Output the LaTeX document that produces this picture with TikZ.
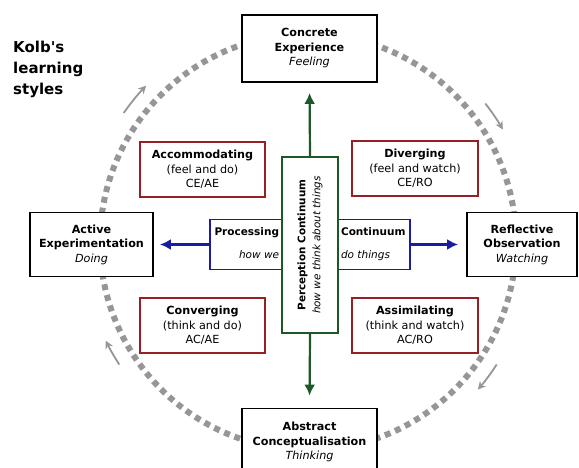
\documentclass[tikz,border=0pt]{standalone}
\usepackage{fontspec}
\setmainfont{DejaVu Sans}
\usetikzlibrary{arrows.meta}
\definecolor{boxred}{RGB}{150,32,38}
\definecolor{boxgreen}{RGB}{28,88,40}
\definecolor{boxblue}{RGB}{28,28,160}
\definecolor{ringgrey}{RGB}{150,150,150}
\tikzset{
  stage/.style={draw=black, line width=1.8pt, fill=white, align=center, inner sep=0pt,
    font=\fontsize{11.2}{14.5}\selectfont},
  lstyle/.style={draw=boxred, line width=1.3pt, fill=white, align=center, inner sep=0pt,
    minimum width=125, minimum height=55, font=\fontsize{11.2}{14.5}\selectfont},
  ringarrow/.style={ringgrey, line width=1.8pt, -{Stealth[length=8pt,width=8pt]}},
  axisarrow/.style={line width=2.6pt, -{Latex[length=11pt,width=11pt]}},
}
\begin{document}
\begin{tikzpicture}[x=1pt,y=-1pt]
\useasboundingbox (0,0) rectangle (579,468);
% the cycle
\draw [ringgrey, line width=6pt, dash pattern=on 6pt off 5pt] (308,242) circle (208);
\draw [ringarrow] (308,242) ++(215:225) arc (215:224:225);
\draw [ringarrow] (308,242) ++(322:225) arc (322:330:225);
\draw [ringarrow] (308,242) ++(33:225) arc (33:41:225);
\draw [ringarrow] (308,242) ++(147:225) arc (147:154:225);

\node (title) [anchor=north west, align=left, inner sep=0pt,
  font=\fontsize{15}{21}\selectfont\bfseries] at (13,41) {Kolb\textquotesingle s\\learning\\styles};

% four stages
\node (ce) [stage, minimum width=135, minimum height=67] at (309.5,48.5)
  {\textbf{Concrete}\\\textbf{Experience}\\\textit{Feeling}};
\node (ae) [stage, minimum width=123, minimum height=64] at (91.5,244.5)
  {\textbf{Active}\\\textbf{Experimentation}\\\textit{Doing}};
\node (ro) [stage, minimum width=110, minimum height=64] at (522,244.5)
  {\textbf{Reflective}\\\textbf{Observation}\\\textit{Watching}};
\node (ac) [stage, minimum width=135, minimum height=67] at (309.5,442)
  {\textbf{Abstract}\\\textbf{Conceptualisation}\\\textit{Thinking}};

% four styles
\node (acc) [lstyle] at (202.5,169.5) {\textbf{Accommodating}\\(feel and do)\\CE/AE};
\node (div) [lstyle, minimum width=126] at (415,168.5) {\textbf{Diverging}\\(feel and watch)\\CE/RO};
\node (conv) [lstyle] at (202.5,325.5) {\textbf{Converging}\\(think and do)\\AC/AE};
\node (assim) [lstyle, minimum width=126] at (415,325.5) {\textbf{Assimilating}\\(think and watch)\\AC/RO};

% the two continua
\node (proc) [draw=boxblue, line width=1.3pt, fill=white, inner sep=0pt,
  minimum width=200, minimum height=50, font=\fontsize{10.5}{14}\selectfont] at (310,244.5) {
\begin{tabular}{@{}r@{\hspace{62pt}}l@{}}
  \textbf{Processing} & \textbf{Continuum} \\[9pt]
  \textit{how we} & \textit{do things}
\end{tabular}
};
\node (perc) [draw=boxgreen, line width=1.3pt, fill=white, inner sep=0pt, rotate=90,
  align=center, minimum width=176, minimum height=56, font=\fontsize{10.4}{15}\selectfont] at (310,245)
  {\textbf{Perception Continuum}\\\textit{how we think about things}};

\draw [axisarrow, boxblue, shorten >=6pt] (proc.west) -- (ae.east);
\draw [axisarrow, boxblue, shorten >=8pt] (proc.east) -- (ro.west);
\draw [axisarrow, boxgreen, line width=2.2pt, shorten >=10pt] (perc.east) -- (ce.south);
\draw [axisarrow, boxgreen, line width=2.2pt, shorten >=12pt] (perc.west) -- (ac.north);
\end{tikzpicture}
\end{document}
